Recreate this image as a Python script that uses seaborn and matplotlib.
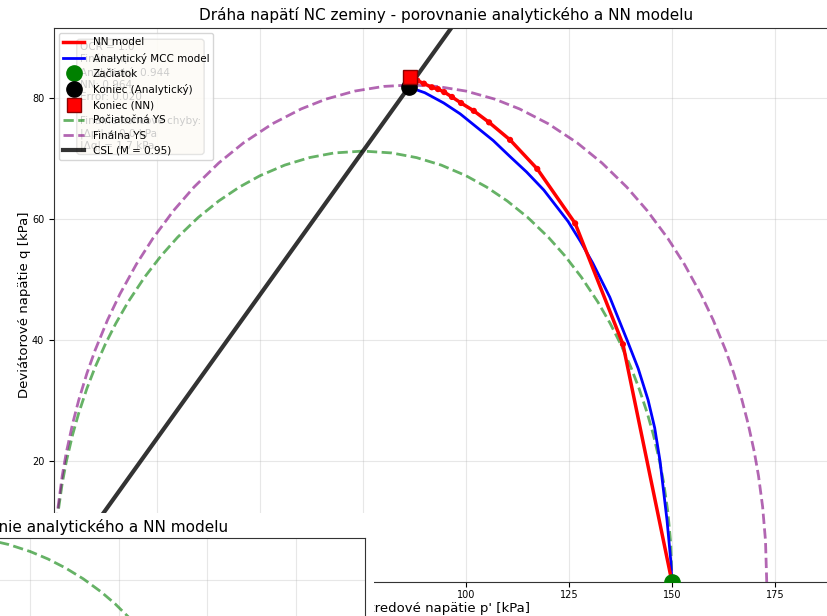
import matplotlib
matplotlib.use("Agg")
import matplotlib.pyplot as plt
import seaborn as sns
from matplotlib.patches import Rectangle

FONT_SIZE_TICKS = 7
FONT_SIZE_TITLE = 11
FONT_SIZE_AXES = 9.5
FONT_SIZE_LEGEND = 7.5

TITLE = "Dráha napätí NC zeminy - porovnanie analytického a NN modelu"

# NN model stress path (p', q)
nn_p = [150.0, 138.1, 126.5, 117.3, 110.7, 105.6, 101.9, 98.8, 96.6, 94.7, 93.2, 91.7, 89.8, 88.2, 86.5]
nn_q = [0.0, 39.3, 59.3, 68.3, 73.1, 76.0, 77.9, 79.2, 80.2, 81.0, 81.5, 81.8, 82.4, 82.9, 83.5]

# analytical MCC stress path
mcc_p = [150.0, 149.7, 148.8, 147.1, 145.8, 144.2, 141.8, 139.1, 134.9, 130.8, 127.8, 124.8,
         118.9, 114.7, 110.6, 106.6, 102.6, 98.6, 94.6, 90.0, 86.2]
mcc_q = [0.0, 3.6, 10.2, 20.0, 25.5, 30.1, 35.3, 40.0, 47.1, 52.7, 56.3, 59.6,
         64.8, 67.8, 70.4, 73.0, 75.2, 77.4, 79.2, 80.9, 81.8]

# initial yield surface
ys0_p = [0, 0.3, 1, 2, 3, 4.5, 6, 8, 10, 12.5, 15, 18, 22, 26, 30, 35, 40, 45, 50, 56,
         62, 68, 75, 82, 88, 94, 100, 105, 110, 115, 120, 124, 128, 132, 135, 137.5, 140,
         142, 144, 145.5, 147, 148, 149, 149.7, 150]
ys0_q = [0, 6.37, 11.6, 16.34, 19.95, 24.31, 27.92, 32.02, 35.55, 39.39, 42.75, 46.31,
         50.41, 53.94, 57.0, 60.27, 63.01, 65.30, 67.18, 68.93, 70.17, 70.94, 71.25,
         70.94, 70.17, 68.93, 67.18, 65.30, 63.01, 60.27, 57.0, 53.94, 50.41, 46.31,
         42.75, 39.39, 35.55, 32.02, 27.92, 24.31, 19.95, 16.34, 11.6, 6.37, 0]

# final yield surface
ysf_p = [0, 0.3, 1, 2, 3, 4.5, 6, 8, 10, 13, 16, 20, 24, 29, 34, 40, 46, 53, 60, 66, 73,
         80, 86.5, 93, 100, 107, 113, 120, 127, 133, 139, 144, 149, 153, 157, 160, 163,
         165, 167, 168.5, 170, 171, 172, 172.7, 173]
ysf_q = [0, 6.84, 12.46, 17.57, 21.45, 26.12, 30.07, 34.52, 38.36, 43.33, 47.61, 52.55,
         56.81, 61.39, 65.31, 69.29, 72.61, 75.76, 78.22, 79.84, 81.17, 81.94, 82.18,
         81.94, 81.17, 79.84, 78.22, 75.76, 72.61, 69.29, 65.31, 61.39, 56.81, 52.55,
         47.61, 43.33, 38.36, 34.52, 30.07, 26.12, 21.45, 17.57, 12.46, 6.84, 0]

# critical state line
csl_p = [0, 200]
csl_q = [0, 190]

start_pt = (150.0, 0.0)
end_mcc = (86.2, 81.8)
end_nn = (86.5, 83.5)

info_text = ("OCR = 1.0\nFinálne η:\nAnalytický: 0.944\nNN: 0.964\nError: 0.020\n\n"
             "Finálne koncové chyby:\n|Δp'| = 0.0 kPa\n|Δq| = 1.7 kPa")

fig = plt.figure(figsize=(8.27, 6.16), dpi=100)
ax = fig.add_axes([54 / 827, 34 / 616, 784 / 827, 554 / 616])

sns.lineplot(x=nn_p, y=nn_q, sort=False, estimator=None, color="red", linewidth=2.5,
             label="NN model", ax=ax, zorder=4)
sns.scatterplot(x=nn_p, y=nn_q, color="red", s=20, edgecolor="none", legend=False,
                ax=ax, zorder=4)
sns.lineplot(x=mcc_p, y=mcc_q, sort=False, estimator=None, color="blue", linewidth=2,
             label="Analytický MCC model", ax=ax, zorder=3)
ax.plot(*start_pt, "o", color="green", markersize=11, label="Začiatok", zorder=6)
ax.plot(*end_mcc, "o", color="black", markersize=11, label="Koniec (Analytický)", zorder=6)
ax.plot(*end_nn, "s", color="red", markeredgecolor="darkred", markersize=10,
        label="Koniec (NN)", zorder=7)
sns.lineplot(x=ys0_p, y=ys0_q, sort=False, estimator=None, color="green", alpha=0.6,
             linewidth=2, linestyle="--", label="Počiatočná YS", ax=ax, zorder=2)
sns.lineplot(x=ysf_p, y=ysf_q, sort=False, estimator=None, color="purple", alpha=0.6,
             linewidth=2, linestyle="--", label="Finálna YS", ax=ax, zorder=2)
sns.lineplot(x=csl_p, y=csl_q, sort=False, estimator=None, color="black", alpha=0.8,
             linewidth=3, label="CSL (M = 0.95)", ax=ax, zorder=2)

ax.set_xticks([0, 25, 50, 75, 100, 125, 150, 175])
ax.set_yticks([0, 20, 40, 60, 80])
ax.set_xlim(0, 190.3)
ax.set_ylim(0, 91.6)
ax.grid(True, color="#b0b0b0", alpha=0.3)
ax.tick_params(labelsize=FONT_SIZE_TICKS)
ax.tick_params(axis="x", pad=2.5)
for s in ax.spines.values():
    s.set_color("#333333")
ax.set_xlabel("Stredové napätie p' [kPa]", fontsize=FONT_SIZE_AXES, labelpad=1)
ax.set_ylabel("Deviátorové napätie q [kPa]", fontsize=FONT_SIZE_AXES, labelpad=0.5)
ax.set_title(TITLE, fontsize=FONT_SIZE_TITLE)

ax.text(0.033, 0.975, info_text, transform=ax.transAxes, va="top", ha="left",
        fontsize=FONT_SIZE_LEGEND, linespacing=1.25,
        bbox=dict(boxstyle="round", facecolor="wheat", alpha=0.5))
ax.legend(loc="upper left", fontsize=FONT_SIZE_LEGEND, framealpha=0.8)

# overlapping window of a second copy in the lower left corner
fig.add_artist(Rectangle((0, 0), 374 / 827, 103 / 616, transform=fig.transFigure,
                         facecolor="white", edgecolor="none", zorder=1))
ax2 = fig.add_axes([-2 / 827, -24 / 616, 367 / 827, 102 / 616], zorder=2)
ax2.set_facecolor("white")
sns.lineplot(x=ys0_p, y=ys0_q, sort=False, estimator=None, color="green", alpha=0.6,
             linewidth=2, linestyle="--", ax=ax2)
ax2.set_xticks([100, 125, 150, 175])
ax2.set_yticks([40, 60, 80])
ax2.set_xlim(90.9, 194.6)
ax2.set_ylim(44.8, 70.6)
ax2.tick_params(labelbottom=False, labelleft=False, length=0)
ax2.set_xlabel("")
ax2.set_ylabel("")
ax2.grid(True, color="#b0b0b0", alpha=0.3)
for s in ax2.spines.values():
    s.set_color("#333333")
fig.text(228 / 827, 1 - 527 / 616, TITLE, ha="right", va="center",
         fontsize=FONT_SIZE_TITLE, zorder=3)

fig.savefig("out.png", dpi=100)
